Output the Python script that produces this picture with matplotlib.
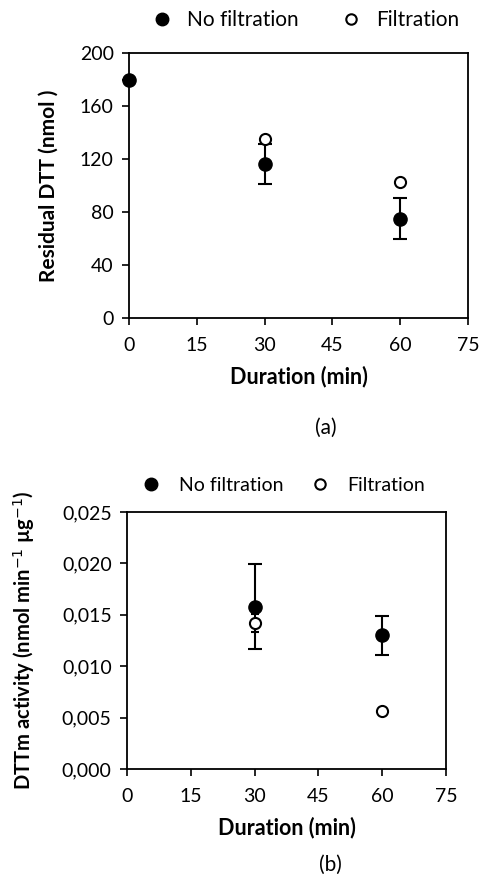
import matplotlib
matplotlib.use("Agg")
import matplotlib.pyplot as plt
from matplotlib.ticker import FuncFormatter
from matplotlib.lines import Line2D

plt.rcParams['font.family'] = ['Lato', 'DejaVu Sans']

# panel (a): residual DTT
t_a_nf = [0, 30, 60]
dtt_nf = [180, 116, 75]
dtt_nf_err = [0, 15, 15.5]
t_a_f = [30, 60]
dtt_f = [135, 103]
dtt_f_err = [2, 2]

# panel (b): DTTm activity
t_b_nf = [30, 60]
act_nf = [0.0158, 0.0130]
act_nf_err = [0.0041, 0.0019]
t_b_f = [30, 60]
act_f = [0.0142, 0.0056]
act_f_err = [0.0009, 0.0002]

xticks = [0, 15, 30, 45, 60, 75]
yticks_a = [0, 40, 80, 120, 160, 200]
yticks_b = [0, 0.005, 0.010, 0.015, 0.020, 0.025]

fig = plt.figure(figsize=(4.8, 8.74), dpi=100)
W, H = 480, 874

def box(l, t, r, b):
    return [l / W, 1 - b / H, (r - l) / W, (b - t) / H]

def style(ax):
    ax.set_xlim(0, 75)
    ax.set_xticks(xticks)
    ax.tick_params(axis='both', direction='out', length=5, width=1.2, labelsize=14, color='black', pad=6)
    ax.tick_params(axis='x', pad=9)
    for s in ax.spines.values():
        s.set_linewidth(1.3)
    ax.set_xlabel('Duration (min)', fontsize=15.5, fontweight='bold', labelpad=8)

def legend(ax, x, y, fs, colsp, pad):
    h = [Line2D([], [], ls='none', marker='o', color='black', ms=9),
         Line2D([], [], ls='none', marker='o', mfc='white', mec='black', mew=1.5, ms=7.5)]
    ax.legend(h, ['No filtration', 'Filtration'], loc='center', bbox_to_anchor=(x, y), ncol=2,
              frameon=False, fontsize=fs, handletextpad=pad, columnspacing=colsp, borderaxespad=0,
              handlelength=1.0)

ax1 = fig.add_axes(box(129, 53, 468, 318))
ax1.errorbar(t_a_nf, dtt_nf, yerr=dtt_nf_err, fmt='o', color='black', ms=9.5,
             capsize=5, elinewidth=1.5, capthick=1.5, clip_on=False, zorder=3)
ax1.errorbar(t_a_f, dtt_f, yerr=dtt_f_err, fmt='o', mfc='white', mec='black', mew=1.5, color='black',
             ms=8, capsize=3, elinewidth=1.2, capthick=1.2, clip_on=False, zorder=4)
ax1.set_ylim(0, 200)
ax1.set_yticks(yticks_a)
style(ax1)
ax1.set_ylabel('Residual DTT (nmol )', fontsize=15, fontweight='bold', labelpad=15)
legend(ax1, 0.52, 1.125, 15, 2.0, 0.7)
fig.text(326 / W, 1 - 428 / H, '(a)', ha='center', va='center', fontsize=15)

ax2 = fig.add_axes(box(127, 512, 446, 769))
ax2.errorbar(t_b_nf, act_nf, yerr=act_nf_err, fmt='o', color='black', ms=9.5,
             capsize=5, elinewidth=1.5, capthick=1.5, zorder=3)
ax2.errorbar(t_b_f, act_f, yerr=act_f_err, fmt='o', mfc='white', mec='black', mew=1.5, color='black',
             ms=8, capsize=3, elinewidth=1.2, capthick=1.2, zorder=4)
ax2.set_ylim(0, 0.025)
ax2.set_yticks(yticks_b)
ax2.yaxis.set_major_formatter(FuncFormatter(lambda v, p: f'{v:.3f}'.replace('.', ',')))
style(ax2)
ax2.set_ylabel('DTTm activity (nmol min$^{-1}$ µg$^{-1}$)', fontsize=14.5,
               fontweight='bold', labelpad=18)
legend(ax2, 0.49, 1.105, 14, 1.4, 0.9)
fig.text(330 / W, 1 - 865 / H, '(b)', ha='center', va='center', fontsize=15)

fig.savefig('out.png', dpi=100)
